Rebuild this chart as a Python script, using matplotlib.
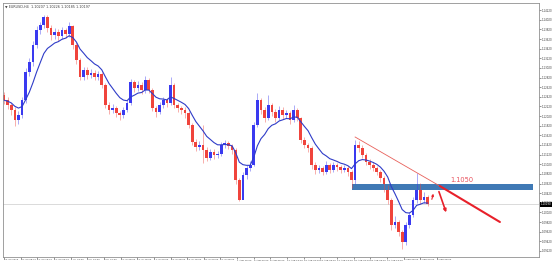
import numpy as np
import pandas as pd
import matplotlib
matplotlib.use("Agg")
import matplotlib.pyplot as plt
import matplotlib.transforms as mtransforms
from matplotlib.patches import Rectangle

# EURUSD half-day candles (close / high / low), first open separately
first_open = 1.1245
close = [1.1235, 1.1225, 1.1215, 1.1194, 1.1204, 1.1235, 1.1294, 1.1314, 1.1350, 1.1381,
         1.1391, 1.1408, 1.1385, 1.1370, 1.1377, 1.1368, 1.1381, 1.1373, 1.1389, 1.1350,
         1.1319, 1.1283, 1.1298, 1.1287, 1.1292, 1.1283, 1.1289, 1.1267, 1.1225, 1.1215,
         1.1219, 1.1208, 1.1204, 1.1215, 1.1229, 1.1273, 1.1260, 1.1267, 1.1256, 1.1277,
         1.1256, 1.1219, 1.1211, 1.1225, 1.1235, 1.1229, 1.1267, 1.1225, 1.1219, 1.1215,
         1.1208, 1.1184, 1.1148, 1.1138, 1.1142, 1.1132, 1.1115, 1.1128, 1.1121, 1.1124,
         1.1142, 1.1146, 1.1140, 1.1132, 1.1069, 1.1028, 1.1080, 1.1094, 1.1100, 1.1184,
         1.1235, 1.1215, 1.1198, 1.1225, 1.1211, 1.1198, 1.1215, 1.1204, 1.1208, 1.1194,
         1.1215, 1.1198, 1.1152, 1.1142, 1.1136, 1.1100, 1.1090, 1.1094, 1.1086, 1.1100,
         1.1090, 1.1100, 1.1096, 1.1090, 1.1094, 1.1086, 1.1069, 1.1142, 1.1136, 1.1121,
         1.1107, 1.1100, 1.1094, 1.1086, 1.1073, 1.1053, 1.1028, 1.0976, 1.0982, 1.0961,
         1.0940, 1.0976, 1.0997, 1.1028, 1.1059, 1.1028, 1.1034, 1.1019]
high = [1.1252, 1.1241, 1.1230, 1.1221, 1.1212, 1.1242, 1.1302, 1.1323, 1.1358, 1.1389,
        1.1398, 1.1412, 1.1411, 1.1392, 1.1385, 1.1383, 1.1388, 1.1386, 1.1398, 1.1392,
        1.1356, 1.1323, 1.1305, 1.1303, 1.1299, 1.1297, 1.1296, 1.1293, 1.1270, 1.1231,
        1.1227, 1.1224, 1.1213, 1.1221, 1.1235, 1.1280, 1.1278, 1.1274, 1.1272, 1.1286,
        1.1281, 1.1260, 1.1224, 1.1232, 1.1241, 1.1240, 1.1284, 1.1271, 1.1230, 1.1224,
        1.1220, 1.1212, 1.1188, 1.1154, 1.1150, 1.1184, 1.1137, 1.1134, 1.1133, 1.1130,
        1.1149, 1.1153, 1.1151, 1.1145, 1.1136, 1.1073, 1.1086, 1.1101, 1.1108, 1.1190,
        1.1249, 1.1240, 1.1220, 1.1245, 1.1230, 1.1216, 1.1222, 1.1220, 1.1214, 1.1212,
        1.1226, 1.1219, 1.1201, 1.1158, 1.1147, 1.1140, 1.1106, 1.1101, 1.1099, 1.1108,
        1.1104, 1.1107, 1.1105, 1.1101, 1.1100, 1.1098, 1.1090, 1.1153, 1.1150, 1.1141,
        1.1126, 1.1113, 1.1106, 1.1099, 1.1090, 1.1077, 1.1058, 1.1032, 1.0994, 1.0987,
        1.0966, 1.0982, 1.1003, 1.1034, 1.1084, 1.1064, 1.1045, 1.1039]
low = [1.1228, 1.1216, 1.1205, 1.1181, 1.1186, 1.1198, 1.1230, 1.1285, 1.1306, 1.1343,
       1.1372, 1.1384, 1.1376, 1.1360, 1.1362, 1.1358, 1.1362, 1.1364, 1.1366, 1.1342,
       1.1310, 1.1276, 1.1278, 1.1280, 1.1281, 1.1277, 1.1278, 1.1260, 1.1218, 1.1207,
       1.1209, 1.1200, 1.1194, 1.1199, 1.1210, 1.1225, 1.1252, 1.1254, 1.1248, 1.1251,
       1.1249, 1.1212, 1.1201, 1.1206, 1.1219, 1.1221, 1.1225, 1.1218, 1.1211, 1.1207,
       1.1199, 1.1177, 1.1141, 1.1130, 1.1131, 1.1105, 1.1108, 1.1110, 1.1113, 1.1115,
       1.1120, 1.1136, 1.1133, 1.1124, 1.1062, 1.1026, 1.1030, 1.1072, 1.1087, 1.1098,
       1.1180, 1.1207, 1.1190, 1.1194, 1.1203, 1.1190, 1.1193, 1.1196, 1.1198, 1.1186,
       1.1190, 1.1191, 1.1146, 1.1135, 1.1128, 1.1093, 1.1082, 1.1084, 1.1079, 1.1082,
       1.1083, 1.1086, 1.1089, 1.1083, 1.1085, 1.1078, 1.1052, 1.1060, 1.1128, 1.1114,
       1.1100, 1.1093, 1.1087, 1.1079, 1.1066, 1.1045, 1.1020, 1.0966, 1.0970, 1.0952,
       1.0926, 1.0935, 1.0970, 1.0992, 1.1022, 1.1020, 1.1022, 1.1015]

date_labels = ["18 Jun 2019", "20 Jun 08:00", "24 Jun 16:00", "27 Jun 00:00", "1 Jul 08:00",
               "3 Jul 16:00", "8 Jul 00:00", "10 Jul 08:00", "12 Jul 16:00", "17 Jul 00:00",
               "19 Jul 08:00", "23 Jul 16:00", "26 Jul 00:00", "30 Jul 08:00", "1 Aug 16:00",
               "6 Aug 00:00", "8 Aug 08:00", "12 Aug 16:00", "15 Aug 00:00", "19 Aug 08:00",
               "21 Aug 16:00", "26 Aug 00:00", "28 Aug 08:00", "30 Aug 16:00", "3 Sep 08:00",
               "5 Sep 00:00", "6 Sep 08:00"]

# drawn objects (bar index, price)
zone_x = [96.1, 146.1]
zone_price = [1.1048, 1.1061]
trend_thin = ([97.0, 120.4], [1.11586, 1.10568])
trend_thick = ([120.4, 137.0], [1.10568, 1.09821])
up_arrow = ([118.0, 118.8], [1.10236, 1.10465])
down_arrow = ([119.9, 122.4], [1.10506, 1.09966])
level_label = (126.5, 1.10693, "1.1050")

df = pd.DataFrame({"high": high, "low": low, "close": close})
df["open"] = [first_open] + close[:-1]
df["ma"] = df.close.ewm(span=9, adjust=False).mean()
idx = np.arange(len(df))
up = df.close >= df.open

fig = plt.figure(figsize=(5.53, 2.65), dpi=100)
ax = fig.add_axes([3/553, 8/265, 536/553, 254/265])

cols = np.where(up, "#3a3af0", "#f0443c")
ax.vlines(idx, df.low, df.high, colors=cols, lw=0.6, alpha=0.5)
body = (df.close - df.open).abs().clip(lower=0.00012)
ax.bar(idx, body, bottom=np.minimum(df.open, df.close), width=0.75, color=cols, lw=0)
ax.plot(idx, df.ma, color="#2f3cc8", lw=0.8)

# current price line
ax.axhline(close[-1], color="#cccccc", lw=0.5, zorder=0)

# support zone and trendline
ax.add_patch(Rectangle((zone_x[0], zone_price[0]), zone_x[1] - zone_x[0],
                       zone_price[1] - zone_price[0], color="#3f79b5", lw=0))
ax.plot(*trend_thin, color="#e8605a", lw=0.6)
ax.plot(*trend_thick, color="#e8202a", lw=1.5, solid_capstyle="round")
ax.annotate("", xy=(up_arrow[0][1], up_arrow[1][1]), xytext=(up_arrow[0][0], up_arrow[1][0]),
            arrowprops=dict(arrowstyle="-|>", color="#e8202a", lw=0.8, mutation_scale=3))
ax.annotate("", xy=(down_arrow[0][1], down_arrow[1][1]), xytext=(down_arrow[0][0], down_arrow[1][0]),
            arrowprops=dict(arrowstyle="-|>", color="#e8202a", lw=1.2, mutation_scale=4))
ax.text(level_label[0], level_label[1], level_label[2], color="#e8505b", fontsize=4.8,
        ha="center", va="center")

ax.set_xlim(-0.28, 147.8)
ax.set_ylim(1.09094, 1.14369)

yt = np.arange(1.0922, 1.1424, 0.0020)
ax.yaxis.tick_right()
ax.set_yticks(yt)
ax.set_yticklabels(["%.5f" % v for v in yt])
ax.set_xticks(np.arange(len(date_labels)) * 4.6)
ax.set_xticklabels(date_labels, ha="left")
ax.tick_params(axis="both", length=1.2, width=0.4, pad=0.6, colors="#404040")
ax.tick_params(axis="y", labelsize=1.9)
ax.tick_params(axis="x", labelsize=1.75)

for s in ax.spines.values():
    s.set_color("#909090")
    s.set_linewidth(0.6)

# price marker on the axis
tr = mtransforms.blended_transform_factory(ax.transAxes, ax.transData)
ax.text(1.003, close[-1], "%.5f" % close[-1], transform=tr, fontsize=1.9, color="white",
        va="center", ha="left", bbox=dict(boxstyle="square,pad=0.15", fc="black", ec="none"))

ax.text(0.004, 0.993, "\u25bc EURUSD,H4  1.10207 1.10226 1.10185 1.10197", transform=ax.transAxes,
        fontsize=2.4, color="#404040", va="top", ha="left")

fig.savefig("out.png", dpi=100)
